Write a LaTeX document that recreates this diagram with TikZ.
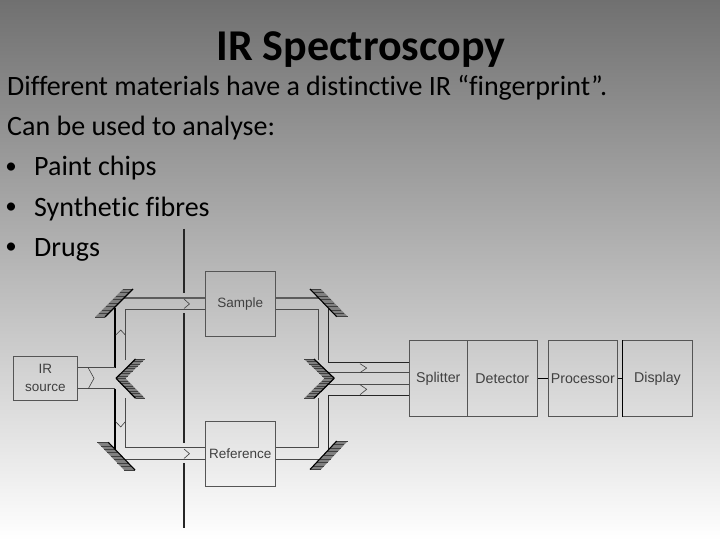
\documentclass[tikz,border=0pt]{standalone}
\usepackage{fontspec}
\usetikzlibrary{calc}
\setmainfont[Ligatures=NoCommon]{Carlito}
\newfontfamily\diagfont{Liberation Sans}
\definecolor{beamgray}{HTML}{4A4A4A}
\definecolor{boxgray}{HTML}{555555}
\definecolor{mirrorgray}{HTML}{808080}
\tikzset{
  x=1pt,y=-1pt,
  titletext/.style={anchor=base,inner sep=0pt,font=\fontsize{44}{44}\selectfont\bfseries,text=black},
  bodytext/.style={anchor=base west,inner sep=0pt,font=\fontsize{28}{28}\selectfont,text=black},
  bullettext/.style={anchor=base,inner sep=0pt,font=\fontsize{23}{23}\selectfont,text=black},
  unitbox/.style={draw=boxgray,line width=1pt,inner sep=0pt,font=\diagfont\fontsize{13.5}{15}\selectfont,align=center,text=black!75},
  widebox/.style={unitbox,font=\diagfont\fontsize{14.2}{15}\selectfont},
  beam/.style={draw=beamgray,line width=1pt},
  beamthick/.style={draw=beamgray!90,line width=1.8pt},
  wall/.style={draw=black!85,line width=1.5pt},
  link/.style={draw=black,line width=1.4pt},
  tick/.style={draw=black!75,line width=.6pt},
}
\newcommand{\mirrorpic}[4]{% front end a, front end b, hatch dx, front width
  \fill[mirrorgray] (#1) -- (#2) -- ++(#3,0) -- ($(#1)+(#3,0)$) -- cycle;
  \foreach \t in {0,.125,...,1.01}{
    \draw[black!75,line width=.45pt] ($(#1)!\t!(#2)$) -- ++(#3,0);
  }
  \draw[black,line width=#4] (#1) -- (#2);
}
\begin{document}
\begin{tikzpicture}
\useasboundingbox (0,0) rectangle (720,540);
\shade[top color=black!56,bottom color=white] (0,0) rectangle (720,540);

\node[titletext] (title) at (361,61) {IR Spectroscopy};
\node[bodytext] (l1) at (7,96) {Different materials have a distinctive IR “fingerprint”.};
\node[bodytext] (l2) at (7,136) {Can be used to analyse:};
\node[bullettext] (b1) at (11,173.5) {•};
\node[bodytext] (t1) at (34,176) {Paint chips};
\node[bullettext] (b2) at (11,214) {•};
\node[bodytext] (t2) at (34,216) {Synthetic fibres};
\node[bullettext] (b3) at (11,254) {•};
\node[bodytext] (t3) at (34,256) {Drugs};

% boxes
\node[unitbox,minimum width=70pt,minimum height=64.5pt] (sample) at (240.3,304) {Sample};
\node[unitbox,minimum width=70pt,minimum height=65pt] (reference) at (240.3,453.5) {Reference};
\node[unitbox,minimum width=64pt,minimum height=43.5pt] (source) at (45.3,378.3) {IR\\[3pt]source};
\node[widebox,minimum width=58pt,minimum height=75.5pt] (splitter) at (438.3,378.4) {Splitter};
\node[widebox,minimum width=70pt,minimum height=75.5pt] (detector) at (502.3,378.4) {Detector};
\node[widebox,minimum width=69pt,minimum height=75.5pt] (processor) at (582.8,378.4) {Processor};
\node[widebox,minimum width=69.6pt,minimum height=75.5pt] (display) at (657.5,378.4) {Display};

% links
\draw[link] (detector.east |- 0,378.7) -- (processor.west |- 0,378.7);
\draw[link] (processor.east |- 0,378.7) -- (display.west |- 0,378.7);
\draw[draw=black,line width=1.2pt] (display.north west) -- (display.south west);

% wall
\coordinate (w1) at (184,229);
\coordinate (w2) at (184,293);
\coordinate (w3) at (184,313);
\coordinate (w4) at (184,443);
\coordinate (w5) at (184,463);
\coordinate (w6) at (184,528);
\draw[wall] (w1) -- (w2) (w3) -- (w4) (w5) -- (w6);

% beams, left
\coordinate (a1) at (124,298.3);
\coordinate (a2) at (125.3,309);
\coordinate (a3) at (125.3,447.7);
\coordinate (a4) at (124,459);
\draw[beamthick] (a1) -- (sample.west |- a1);
\draw[beam] (sample.west |- a2) -- (a2) -- (125.3,360);
\draw[beam] (125.3,398) -- (a3) -- (reference.west |- a3);
\draw[beam] (a4) -- (reference.west |- a4);
\draw[draw=black,line width=1.4pt] (115,308) -- (115,367.5);
\draw[draw=black,line width=1.4pt] (115,388.7) -- (115,450);
\draw[beam] (source.east |- 0,367.7) -- (115,367.7);
\draw[beam] (source.east |- 0,388.7) -- (115,388.7);

% beams, right
\coordinate (c1) at (328.3,298.3);
\coordinate (c2) at (318.3,309);
\coordinate (c3) at (318.3,447.7);
\coordinate (c4) at (328.3,459);
\draw[beamthick] (sample.east |- c1) -- (319,298.3);
\draw[beam] (sample.east |- c2) -- (c2) -- (318.3,360);
\draw[beam] (318.3,398) -- (c3) -- (reference.east |- c3);
\draw[beam] (reference.east |- 0,459) -- (319,459);
\draw[draw=black!85,line width=.9pt] (328.3,307) -- (328.3,362.7) -- (splitter.west |- 0,362.7);
\draw[draw=black!85,line width=.9pt] (328.3,450) -- (328.3,395) -- (splitter.west |- 0,395);
\draw[beam] (325,372.7) -- (splitter.west |- 0,372.7);
\draw[beam] (325,384) -- (splitter.west |- 0,384);

% chevrons on the beams
\draw[tick] (184,299) -- (189.5,304) -- (184,308.5);
\draw[tick] (184,449) -- (189.5,453.7) -- (184,458.5);
\draw[tick] (88.3,368) -- (94,378.3) -- (88.3,388.7);
\draw[tick] (115.7,335) -- (120.7,330) -- (125.3,335);
\draw[tick] (115.7,421.7) -- (120.7,427) -- (125.3,421.7);
\draw[tick] (360,363.7) -- (366.7,368) -- (360,372.7);
\draw[tick] (360,384.7) -- (366.7,389.3) -- (360,394.7);

% mirrors
\mirrorpic{105,317}{133,289}{-10}{1.1pt}
\mirrorpic{336.7,316.7}{310,289}{11}{1.1pt}
\mirrorpic{108.3,442.3}{135,470}{-11}{1.1pt}
\mirrorpic{336.7,441}{310,469.5}{11}{1.1pt}
\mirrorpic{116,378.3}{135.5,359}{9.5}{1.2pt}
\mirrorpic{116,378.3}{135.5,398.3}{9.5}{1.2pt}
\mirrorpic{334.3,378.3}{314,359}{-10}{1.2pt}
\mirrorpic{334.3,378.3}{314,398.3}{-10}{1.2pt}
\end{tikzpicture}
\end{document}
